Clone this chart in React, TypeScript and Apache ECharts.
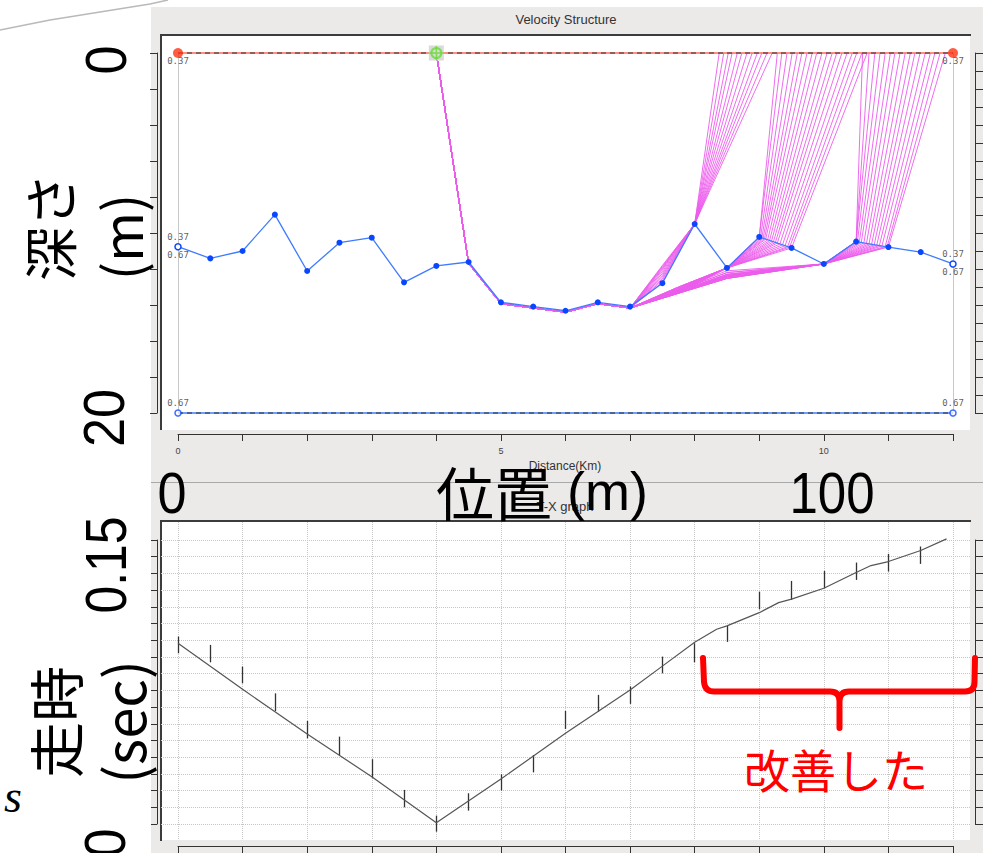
import React, { useEffect, useRef } from "react";
import * as echarts from "echarts";

// ---------------- Velocity Structure (top panel) ----------------
const distanceKm = [0, 0.5, 1, 1.5, 2, 2.5, 3, 3.5, 4, 4.5, 5, 5.5, 6, 6.5, 7, 7.5, 8, 8.5, 9, 9.5, 10, 10.5, 11, 11.5, 12];
const refractorDepthM = [10.76, 11.41, 11.0, 8.98, 12.11, 10.54, 10.26, 12.74, 11.83, 11.61, 13.85, 14.09, 14.32, 13.85, 14.09, 12.79, 9.5, 11.94, 10.22, 10.83, 11.72, 10.48, 10.78, 11.06, 11.72];
const boundaryX = [0, 12];
const surfaceDepthM = [0, 0];
const baseDepthM = [20, 20];
const sourceKm = 4;
const sourceDepthM = 0;

const velocityLabelX = [0, 0, 0, 0, 12, 12, 12, 12];
const velocityLabelDepth = [0, 10.76, 10.76, 20, 0, 11.72, 11.72, 20];
const velocityLabelText = ["0.37", "0.37", "0.67", "0.67", "0.37", "0.37", "0.67", "0.67"];
const velocityLabelPos = ["bottom", "top", "bottom", "top", "bottom", "top", "bottom", "top"];

// ray paths (source -> refractor -> receivers)
const rayDownPath = [[4, 0], [4.5, 11.7], [5, 13.93], [5.5, 14.17], [6, 14.4], [6.5, 13.93], [7, 14.17]];
const fan1ReceiverKm = [8.38, 8.45, 8.52, 8.58, 8.66, 8.73, 8.81, 8.89, 8.97, 9.04, 9.12, 9.2];
const fan1BendDepth = [12.75, 12.65, 12.55, 12.45, 12.35, 12.25, 12.15, 12.05, 11.98, 11.92, 11.86, 11.8];
const fan2ReceiverKm = [9.28, 9.35, 9.43, 9.51, 9.59, 9.66, 9.74, 9.82, 9.89, 9.97, 10.05, 10.13, 10.2, 10.28, 10.36, 10.44, 10.51, 10.59, 10.67];
const fan2SagDepth = [13.0, 13.05, 13.1, 13.15, 13.2, 13.25, 13.3, 13.0, 13.05, 13.1, 13.15, 13.2, 13.25, 13.3, 13.0, 13.1, 13.2, 13.3, 13.35];
const fan2ExitKm = [9.0, 9.0, 9.02, 9.04, 9.06, 9.08, 9.1, 9.13, 9.16, 9.19, 9.22, 9.25, 9.28, 9.32, 9.36, 9.4, 9.44, 9.47, 9.5];
const fan2ExitDepth = [10.22, 10.22, 10.24, 10.27, 10.29, 10.32, 10.34, 10.38, 10.42, 10.45, 10.49, 10.53, 10.56, 10.61, 10.66, 10.71, 10.76, 10.79, 10.83];
const fan3ReceiverKm = [10.6, 10.7, 10.79, 10.87, 10.95, 11.03, 11.1, 11.18, 11.26, 11.34, 11.41, 11.49, 11.57, 11.65, 11.72, 11.8, 11.88];
const fan3BendDepth = [12.52, 12.45, 12.38, 12.3, 12.2, 12.1, 12.52, 12.45, 12.38, 12.3, 12.2, 12.52, 12.4, 12.3, 12.52, 12.45, 12.35];
const fan3ExitKm = [10.5, 10.5, 10.5, 10.52, 10.55, 10.58, 10.62, 10.66, 10.7, 10.74, 10.78, 10.82, 10.86, 10.9, 10.95, 10.98, 11.0];
const fan3ExitDepth = [10.48, 10.48, 10.48, 10.49, 10.51, 10.53, 10.55, 10.58, 10.6, 10.62, 10.65, 10.67, 10.7, 10.72, 10.75, 10.77, 10.78];

// ---------------- T-X graph (bottom panel) ----------------
const calcKm = [0, 1, 2, 3, 4, 5, 6, 7, 7.5, 8, 8.34, 8.5, 9, 9.3, 9.5, 10, 10.5, 10.73, 11, 11.5, 11.9];
const calcTimeSec = [0.1082, 0.0806, 0.0539, 0.0283, 0.0008, 0.0269, 0.0543, 0.0802, 0.0945, 0.1088, 0.1166, 0.1186, 0.1265, 0.1325, 0.1346, 0.1411, 0.1505, 0.1547, 0.1571, 0.1637, 0.1707];
const obsKm = [0, 0.5, 1, 1.5, 2, 2.5, 3, 3.5, 4, 4.5, 5, 5.5, 6, 6.5, 7, 7.5, 8, 8.5, 9, 9.5, 10, 10.5, 11, 11.5];
const obsTimeSec = [0.1072, 0.102, 0.0892, 0.0729, 0.0565, 0.0468, 0.0331, 0.0152, 0.0002, 0.0132, 0.0249, 0.0361, 0.0623, 0.0723, 0.0771, 0.0952, 0.1025, 0.1138, 0.1338, 0.1398, 0.1463, 0.1513, 0.1564, 0.1609];
const obsErrSec = [0.005, 0.0052, 0.005, 0.0053, 0.0052, 0.0055, 0.0057, 0.0052, 0.0048, 0.0052, 0.0049, 0.0052, 0.0054, 0.005, 0.0052, 0.005, 0.0057, 0.0048, 0.0053, 0.0057, 0.0052, 0.0052, 0.0053, 0.0052];

const BRACE_D =
  "M703,658 L704,682 Q705,691.5 714,691.5 L830,691.5 Q839.5,691.5 839.5,701 L839.5,728 M839.5,701 Q839.5,691.5 849,691.5 L965,691.5 Q974.5,691.5 974.5,682 L975,658";

let braceRegistered = false;
function registerBrace() {
  if (braceRegistered) return;
  echarts.graphic.registerShape("brace", echarts.graphic.extendPath(BRACE_D, {}));
  braceRegistered = true;
}

const PANEL = "#ece9e9";
const AXIS = "#333333";
const CJK = "Noto Sans CJK JP";
const LAT = "Liberation Sans";

function visibleAxis(extra: any) {
  return {
    type: "value",
    axisLine: { show: true, onZero: false, lineStyle: { color: AXIS, width: 1 } },
    axisLabel: { show: false },
    splitLine: { show: false },
    ...extra,
  };
}

function buildOption() {
  const rays: any[] = [];
  fan1ReceiverKm.forEach((r, i) => {
    rays.push({ coords: [...rayDownPath, [7.5, fan1BendDepth[i]], [distanceKm[16], refractorDepthM[16]], [r, 0]] });
  });
  fan2ReceiverKm.forEach((r, i) => {
    rays.push({ coords: [...rayDownPath, [7.75, fan2SagDepth[i]], [distanceKm[17], refractorDepthM[17]], [fan2ExitKm[i], fan2ExitDepth[i]], [r, 0]] });
  });
  fan3ReceiverKm.forEach((r, i) => {
    rays.push({ coords: [...rayDownPath, [8.5, fan3BendDepth[i]], [distanceKm[20], refractorDepthM[20]], [fan3ExitKm[i], fan3ExitDepth[i]], [r, 0]] });
  });

  const last = distanceKm.length - 1;
  const refractorData = distanceKm.map((x, i) => {
    if (i === 0 || i === last) {
      return { value: [x, refractorDepthM[i]], itemStyle: { color: "#ffffff", borderColor: "#0a46ff", borderWidth: 1.5 } };
    }
    return [x, refractorDepthM[i]];
  });

  const hiddenAxis = {
    type: "value", show: true,
    axisLine: { show: false, onZero: false }, axisTick: { show: false }, axisLabel: { show: false }, splitLine: { show: false },
  };

  return {
    animation: false,
    backgroundColor: "#ffffff",
    grid: [
      { left: 178, top: 53, width: 775, height: 360 },
      { left: 178, top: 540, width: 775, height: 284 },
      { left: 161, top: 540, width: 809, height: 284 },
      { left: 178, top: 522, width: 775, height: 318 },
    ],
    xAxis: [
      visibleAxis({
        gridIndex: 0, min: 0, max: 12, interval: 1, position: "bottom", offset: 21,
        axisTick: { show: true, inside: false, length: 7, lineStyle: { color: AXIS } },
        axisLabel: { show: true, margin: 12, fontSize: 9, color: "#444", fontFamily: LAT, formatter: (v: number) => (v % 5 === 0 ? String(v) : "") },
      }),
      visibleAxis({
        gridIndex: 1, min: 0, max: 12, interval: 1, position: "bottom", offset: 22,
        axisTick: { show: true, inside: false, length: 7, lineStyle: { color: AXIS } },
      }),
      { gridIndex: 2, min: 0, max: 1, ...hiddenAxis },
      {
        gridIndex: 3, type: "value", min: 0, max: 12, interval: 1,
        axisLine: { show: false, onZero: false }, axisTick: { show: false }, axisLabel: { show: false },
        splitLine: { show: true, lineStyle: { color: "#c6c6c6", type: "dotted", width: 1 } },
      },
    ],
    yAxis: [
      visibleAxis({
        gridIndex: 0, min: 0, max: 20, interval: 2, inverse: true, position: "left", offset: 21,
        axisTick: { show: true, inside: false, length: 7, lineStyle: { color: AXIS } },
      }),
      visibleAxis({
        gridIndex: 0, min: 0, max: 20, interval: 1, inverse: true, position: "right", offset: 22,
        axisTick: { show: true, inside: false, length: 8, lineStyle: { color: AXIS } },
      }),
      visibleAxis({
        gridIndex: 1, min: 0, max: 0.17, interval: 0.01, position: "left", offset: 21,
        axisTick: { show: true, inside: false, length: 6, lineStyle: { color: AXIS } },
      }),
      visibleAxis({
        gridIndex: 1, min: 0, max: 0.17, interval: 0.01, position: "right", offset: 22,
        axisTick: { show: true, inside: false, length: 8, lineStyle: { color: AXIS } },
      }),
      {
        gridIndex: 2, type: "value", min: 0, max: 0.17, interval: 0.01,
        axisLine: { show: false, onZero: false }, axisTick: { show: false }, axisLabel: { show: false },
        splitLine: { show: true, lineStyle: { color: "#c6c6c6", type: "dotted", width: 1 } },
      },
      { gridIndex: 3, min: 0, max: 1, ...hiddenAxis },
    ],
    graphic: [
      // panels
      { type: "rect", z: -10, shape: { x: 151, y: 7, width: 832, height: 475 }, style: { fill: PANEL } },
      { type: "rect", z: -10, shape: { x: 151, y: 483, width: 832, height: 370 }, style: { fill: PANEL } },
      { type: "line", z: -9, shape: { x1: 151, y1: 482.5, x2: 983, y2: 482.5 }, style: { stroke: "#a9a9a9", lineWidth: 1 } },
      { type: "rect", z: -9, shape: { x: 161, y: 36, width: 809, height: 394 }, style: { fill: "#ffffff" } },
      { type: "rect", z: -9, shape: { x: 161, y: 522, width: 809, height: 318 }, style: { fill: "#ffffff" } },
      { type: "polyline", z: -8, shape: { points: [[161, 430], [161, 35], [971, 35]] }, style: { stroke: "#3c3c3c", lineWidth: 2, fill: "none" } },
      { type: "polyline", z: -8, shape: { points: [[161, 841], [161, 521], [971, 521]] }, style: { stroke: "#3c3c3c", lineWidth: 2, fill: "none" } },
      { type: "polyline", z: -8, shape: { points: [[0, 30], [50, 20], [100, 12], [150, 4], [168, 0]] }, style: { stroke: "#b9b9b9", lineWidth: 1.5, fill: "none" } },
      { type: "text", z: -7, x: 566, y: 19, style: { text: "Velocity Structure", fontSize: 13, fontFamily: LAT, fill: "#333", align: "center", verticalAlign: "middle" } },
      { type: "text", z: -7, x: 565, y: 466, style: { text: "Distance(Km)", fontSize: 12, fontFamily: LAT, fill: "#333", align: "center", verticalAlign: "middle" } },
      { type: "text", z: -7, x: 565, y: 506, style: { text: "T-X graph", fontSize: 13, fontFamily: LAT, fill: "#333", align: "center", verticalAlign: "middle" } },
      // overlay annotations
      { type: "text", z: 100, x: 106, y: 60, rotation: Math.PI / 2, scaleX: 0.9, style: { text: "0", fontSize: 58, fontFamily: LAT, fill: "#000", align: "center", verticalAlign: "middle" } },
      { type: "text", z: 100, x: 104, y: 418, rotation: Math.PI / 2, scaleX: 0.9, style: { text: "20", fontSize: 58, fontFamily: LAT, fill: "#000", align: "center", verticalAlign: "middle" } },
      { type: "text", z: 100, x: 48, y: 227, rotation: Math.PI / 2, style: { text: "深さ", fontSize: 54, fontFamily: CJK, fill: "#000", align: "center", verticalAlign: "middle" } },
      { type: "text", z: 100, x: 119, y: 237, rotation: Math.PI / 2, style: { text: "(m)", fontSize: 54, fontFamily: CJK, fill: "#000", align: "center", verticalAlign: "middle" } },
      { type: "text", z: 100, x: 172, y: 493, scaleX: 0.9, style: { text: "0", fontSize: 58, fontFamily: LAT, fill: "#000", align: "center", verticalAlign: "middle" } },
      {
        type: "text", z: 100, x: 542, y: 491,
        style: {
          text: "{a|位置}{b| (m)}", align: "center", verticalAlign: "middle", fill: "#000",
          rich: {
            a: { fontSize: 58, fontFamily: CJK, fill: "#000" },
            b: { fontSize: 54, fontFamily: LAT, fill: "#000" },
          },
        },
      },
      { type: "text", z: 100, x: 832, y: 493, scaleX: 0.88, style: { text: "100", fontSize: 58, fontFamily: LAT, fill: "#000", align: "center", verticalAlign: "middle" } },
      { type: "text", z: 100, x: 106, y: 565, rotation: Math.PI / 2, scaleX: 0.86, style: { text: "0.15", fontSize: 58, fontFamily: LAT, fill: "#000", align: "center", verticalAlign: "middle" } },
      { type: "text", z: 100, x: 53, y: 722, rotation: Math.PI / 2, style: { text: "走時", fontSize: 56, fontFamily: CJK, fill: "#000", align: "center", verticalAlign: "middle" } },
      { type: "text", z: 100, x: 121, y: 722, rotation: Math.PI / 2, style: { text: "(sec)", fontSize: 56, fontFamily: CJK, fill: "#000", align: "center", verticalAlign: "middle" } },
      { type: "text", z: 100, x: 105, y: 843, rotation: Math.PI / 2, scaleX: 0.9, style: { text: "0", fontSize: 58, fontFamily: LAT, fill: "#000", align: "center", verticalAlign: "middle" } },
      { type: "text", z: 100, x: 13, y: 796, style: { text: "s", fontSize: 46, fontFamily: "Liberation Serif", fontStyle: "italic", fill: "#000", align: "center", verticalAlign: "middle" } },
      { type: "brace", z: 100, x: 0, y: 0, style: { stroke: "#ff0000", lineWidth: 6, fill: "none", lineCap: "round", lineJoin: "round" } },
      { type: "text", z: 100, x: 836, y: 768, style: { text: "改善した", fontSize: 46, fontFamily: CJK, fill: "#ff0000", align: "center", verticalAlign: "middle" } },
    ],
    series: [
      // -------- top panel --------
      {
        type: "lines", name: "boundaries", coordinateSystem: "cartesian2d", xAxisIndex: 0, yAxisIndex: 0, polyline: false, clip: false, z: 2,
        lineStyle: { color: "#c8c8c8", width: 1, opacity: 1 },
        data: boundaryX.map((x, i) => ({ coords: [[x, surfaceDepthM[i]], [x, baseDepthM[i]]] })),
      },
      {
        type: "lines", name: "rays", coordinateSystem: "cartesian2d", xAxisIndex: 0, yAxisIndex: 0, polyline: true, clip: false, z: 3,
        lineStyle: { color: "#ec5cec", width: 1, opacity: 0.9 },
        data: rays,
      },
      {
        type: "line", name: "surface", xAxisIndex: 0, yAxisIndex: 0, symbol: "none", z: 4, clip: false,
        lineStyle: { color: "#ff6a5a", width: 1.4 },
        data: boundaryX.map((x, i) => [x, surfaceDepthM[i]]),
      },
      {
        type: "line", name: "surfaceDash", xAxisIndex: 0, yAxisIndex: 0, symbol: "none", z: 5, clip: false,
        lineStyle: { color: "#2a2a2a", width: 1.2, type: [5, 4] },
        data: boundaryX.map((x, i) => [x, surfaceDepthM[i]]),
      },
      {
        type: "line", name: "base", xAxisIndex: 0, yAxisIndex: 0, symbol: "none", z: 4, clip: false,
        lineStyle: { color: "#3f7bff", width: 1.4 },
        data: boundaryX.map((x, i) => [x, baseDepthM[i]]),
      },
      {
        type: "line", name: "baseDash", xAxisIndex: 0, yAxisIndex: 0, symbol: "none", z: 5, clip: false,
        lineStyle: { color: "#2a2a2a", width: 1.2, type: [5, 4] },
        data: boundaryX.map((x, i) => [x, baseDepthM[i]]),
      },
      {
        type: "line", name: "refractor", xAxisIndex: 0, yAxisIndex: 0, z: 6, clip: false,
        symbol: "circle", symbolSize: 6, showSymbol: true,
        lineStyle: { color: "#3f7bff", width: 1.3 },
        itemStyle: { color: "#0a46ff" },
        data: refractorData,
      },
      {
        type: "scatter", name: "surfaceEnds", xAxisIndex: 0, yAxisIndex: 0, z: 7, clip: false,
        symbol: "circle", symbolSize: 10, itemStyle: { color: "#ff3414" },
        data: boundaryX.map((x, i) => [x, surfaceDepthM[i]]),
      },
      {
        type: "scatter", name: "baseEnds", xAxisIndex: 0, yAxisIndex: 0, z: 7, clip: false,
        symbol: "circle", symbolSize: 6, itemStyle: { color: "#ffffff", borderColor: "#0a46ff", borderWidth: 1.5 },
        data: boundaryX.map((x, i) => [x, baseDepthM[i]]),
      },
      {
        type: "scatter", name: "sourceBg", xAxisIndex: 0, yAxisIndex: 0, z: 7, clip: false,
        symbol: "rect", symbolSize: 15, itemStyle: { color: "#d6d6d6", opacity: 0.9 },
        data: [[sourceKm, sourceDepthM]],
      },
      {
        type: "scatter", name: "sourceRing", xAxisIndex: 0, yAxisIndex: 0, z: 8, clip: false,
        symbol: "circle", symbolSize: 10, itemStyle: { color: "rgba(0,0,0,0)", borderColor: "#66dd33", borderWidth: 2 },
        data: [[sourceKm, sourceDepthM]],
      },
      {
        type: "scatter", name: "sourceCross", xAxisIndex: 0, yAxisIndex: 0, z: 9, clip: false,
        symbol: "path://M7,0 L7,14 M0,7 L14,7", symbolSize: 14, itemStyle: { color: "rgba(0,0,0,0)", borderColor: "#66dd33", borderWidth: 1.5 },
        data: [[sourceKm, sourceDepthM]],
      },
      {
        type: "scatter", name: "velocityLabels", xAxisIndex: 0, yAxisIndex: 0, z: 9, clip: false,
        symbolSize: 1, itemStyle: { color: "rgba(0,0,0,0)" },
        label: {
          show: true, fontFamily: "DejaVu Sans Mono", fontSize: 9, color: "#333",
          formatter: (p: any) => velocityLabelText[p.dataIndex],
        },
        data: velocityLabelX.map((x, i) => ({
          value: [x, velocityLabelDepth[i]],
          label: { position: velocityLabelPos[i], distance: velocityLabelPos[i] === "top" ? 5 : 3 },
        })),
      },
      // -------- bottom panel --------
      {
        type: "lines", name: "observed", coordinateSystem: "cartesian2d", xAxisIndex: 1, yAxisIndex: 2, clip: false, z: 5,
        lineStyle: { color: "#333333", width: 1.3, opacity: 1 },
        data: obsKm.map((x, i) => ({ coords: [[x, obsTimeSec[i] - obsErrSec[i]], [x, obsTimeSec[i] + obsErrSec[i]]] })),
      },
      {
        type: "line", name: "calculated", xAxisIndex: 1, yAxisIndex: 2, z: 6, clip: false,
        symbol: "none", lineStyle: { color: "#555555", width: 1.2 },
        data: calcKm.map((x, i) => [x, calcTimeSec[i]]),
      },
    ],
  };
}

export default function App() {
  const ref = useRef<HTMLDivElement>(null);
  useEffect(() => {
    document.body.style.margin = "0";
    registerBrace();
    const chart = echarts.init(ref.current as HTMLDivElement, undefined, { renderer: "svg", width: 983, height: 853 });
    chart.setOption(buildOption() as any);
    return () => chart.dispose();
  }, []);
  return <div ref={ref} style={{ position: "absolute", left: 0, top: 0, width: 983, height: 853 }} />;
}
